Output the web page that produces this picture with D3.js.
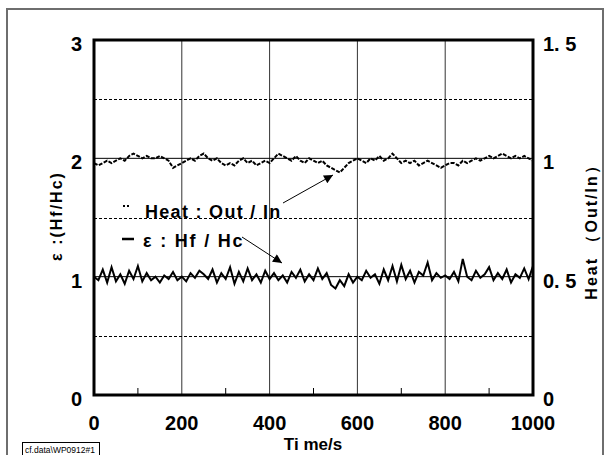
<!DOCTYPE html>
<html>
<head>
<meta charset="utf-8">
<script src="https://cdn.jsdelivr.net/npm/d3@7"></script>
<style>
  body { margin: 0; background: #fff; }
  text { font-family: "Liberation Sans", Arial, sans-serif; font-weight: bold; }
</style>
</head>
<body>
<script>
// time axis, every 10 s
const times = d3.range(0, 1001, 10);

// Heat : Out/In (right axis)
const heatValues = [
  0.98, 0.97, 0.98, 0.99, 0.98, 0.99, 1.00, 0.99, 1.01, 1.02,
  1.01, 1.00, 1.01, 1.00, 1.00, 1.01, 1.00, 0.99, 0.96, 0.97,
  0.98, 0.99, 1.00, 0.99, 1.01, 1.02, 1.00, 0.99, 1.00, 0.98,
  0.97, 0.98, 0.97, 0.99, 1.00, 0.98, 0.99, 0.97, 0.98, 0.99,
  0.98, 1.00, 1.02, 1.01, 1.00, 0.99, 1.01, 0.99, 0.98, 1.00,
  0.99, 0.98, 0.99, 0.97, 0.96, 0.95, 0.94, 0.96, 0.98, 0.99,
  1.00, 0.99, 0.98, 1.00, 0.99, 1.01, 0.99, 1.00, 1.02, 1.00,
  0.98, 0.99, 0.98, 0.99, 0.97, 0.98, 0.99, 0.98, 0.97, 0.96,
  0.97, 0.98, 0.98, 0.97, 0.99, 0.98, 0.99, 1.00, 0.99, 1.00,
  1.01, 1.00, 1.01, 1.02, 1.01, 1.00, 1.01, 1.00, 1.01, 1.00,
  0.99
];

// ε : Hf/Hc (left axis)
const epsValues = [
  1.00, 0.97, 1.06, 0.95, 1.08, 0.96, 1.02, 0.94, 1.05, 0.98,
  1.09, 0.96, 1.03, 0.97, 1.00, 0.95, 1.01, 0.98, 1.04, 0.97,
  1.00, 0.96, 1.03, 0.99, 1.05, 1.02, 0.98, 1.06, 0.95, 1.03,
  0.98, 1.08, 0.94, 1.04, 0.96, 1.07, 0.97, 1.02, 0.95, 1.05,
  0.98, 1.03, 0.97, 1.01, 0.95, 1.04, 0.99, 1.06, 0.96, 1.02,
  0.97, 1.07, 0.98, 1.03, 0.93, 0.90, 0.97, 0.92, 1.02, 0.95,
  1.00, 0.97, 1.05, 0.99, 1.02, 0.94, 1.06, 0.97, 1.09, 0.96,
  1.10, 0.98, 1.05, 0.95, 1.04, 1.01, 1.12, 0.97, 1.03, 0.99,
  1.01, 0.98, 1.04, 0.96, 1.15, 1.00, 0.97, 1.05, 0.99, 1.02,
  1.08, 0.97, 1.03, 0.98, 1.06, 0.95, 1.02, 0.99, 1.07, 0.98,
  1.09
];

const xTicks = [0, 200, 400, 600, 800, 1000];
const xMinor = [100, 300, 500, 700, 900];
const yLeftTicks = [0, 1, 2, 3];
const yRightTicks = [0, 0.5, 1, 1.5];
const yRightLabels = ["0", "0. 5", "1", "1. 5"];
const yDashed = [0.5, 1.5, 2.5];

const width = 604, height = 455;
const margin = { top: 40, right: 71, bottom: 60, left: 94 };

const svg = d3.select("body").append("svg")
  .attr("width", width)
  .attr("height", height);

// outer frame
svg.append("rect")
  .attr("x", 7).attr("y", 9)
  .attr("width", 596).attr("height", 450)
  .attr("fill", "none")
  .attr("stroke", "#6e6e6e")
  .attr("stroke-width", 2);

const x = d3.scaleLinear().domain([0, 1000]).range([margin.left, width - margin.right]);
const yL = d3.scaleLinear().domain([0, 3]).range([height - margin.bottom, margin.top]);
const yR = d3.scaleLinear().domain([0, 1.5]).range([height - margin.bottom, margin.top]);

// grid
svg.append("g").selectAll("line")
  .data(xTicks.slice(1, -1))
  .join("line")
  .attr("x1", d => x(d)).attr("x2", d => x(d))
  .attr("y1", yL(3)).attr("y2", yL(0))
  .attr("stroke", "#333").attr("stroke-width", 1);

svg.append("g").selectAll("line")
  .data([1, 2])
  .join("line")
  .attr("x1", x(0)).attr("x2", x(1000))
  .attr("y1", d => yL(d)).attr("y2", d => yL(d))
  .attr("stroke", "#000").attr("stroke-width", 1);

svg.append("g").selectAll("line")
  .data(yDashed)
  .join("line")
  .attr("x1", x(0)).attr("x2", x(1000))
  .attr("y1", d => Math.round(yL(d)) + 0.5).attr("y2", d => Math.round(yL(d)) + 0.5)
  .attr("stroke", "#000").attr("stroke-width", 1)
  .attr("stroke-dasharray", "3,2");

// minor ticks on bottom axis
svg.append("g").selectAll("line")
  .data(xMinor)
  .join("line")
  .attr("x1", d => x(d)).attr("x2", d => x(d))
  .attr("y1", yL(0)).attr("y2", yL(0) - 7)
  .attr("stroke", "#000").attr("stroke-width", 1);

// series
const lineHeat = d3.line()
  .x((d, i) => x(times[i]))
  .y(d => yR(d));

const lineEps = d3.line()
  .x((d, i) => x(times[i]))
  .y(d => yL(d));

svg.append("path")
  .datum(heatValues)
  .attr("fill", "none")
  .attr("stroke", "#000")
  .attr("stroke-width", 2)
  .attr("stroke-dasharray", "4,1.5")
  .attr("d", lineHeat);

svg.append("path")
  .datum(epsValues)
  .attr("fill", "none")
  .attr("stroke", "#000")
  .attr("stroke-width", 2)
  .attr("d", lineEps);

// plot frame
svg.append("rect")
  .attr("x", x(0)).attr("y", yL(3))
  .attr("width", x(1000) - x(0)).attr("height", yL(0) - yL(3))
  .attr("fill", "none")
  .attr("stroke", "#000")
  .attr("stroke-width", 3);

// tick labels
svg.append("g").selectAll("text")
  .data(xTicks)
  .join("text")
  .attr("x", d => x(d)).attr("y", 430)
  .attr("text-anchor", "middle")
  .attr("font-size", 20)
  .text(d => d);

svg.append("g").selectAll("text")
  .data(yLeftTicks)
  .join("text")
  .attr("x", 82).attr("y", d => yL(d) + 11)
  .attr("text-anchor", "end")
  .attr("font-size", 20)
  .text(d => d);

svg.append("g").selectAll("text")
  .data(yRightTicks)
  .join("text")
  .attr("x", 543).attr("y", (d, i) => yR(d) + 11)
  .attr("font-size", 20)
  .text((d, i) => yRightLabels[i]);

// axis titles
svg.append("text")
  .attr("x", 313).attr("y", 450)
  .attr("text-anchor", "middle")
  .attr("font-size", 17)
  .text("Ti me/s");

svg.append("text")
  .attr("transform", "translate(62,216) rotate(-90)")
  .attr("text-anchor", "middle")
  .attr("font-size", 16)
  .attr("letter-spacing", 2)
  .text("ε :(Hf/Hc)");

svg.append("text")
  .attr("transform", "translate(597,228) rotate(-90)")
  .attr("text-anchor", "middle")
  .attr("font-size", 16)
  .attr("letter-spacing", 2)
  .text("Heat （Out/In）");

// legend
svg.append("line")
  .attr("x1", 123).attr("x2", 131)
  .attr("y1", 206).attr("y2", 206)
  .attr("stroke", "#000").attr("stroke-width", 2)
  .attr("stroke-dasharray", "2,2");
svg.append("text")
  .attr("x", 145).attr("y", 218)
  .attr("font-size", 18)
  .attr("letter-spacing", 1.3)
  .text("Heat : Out / In");

svg.append("line")
  .attr("x1", 122).attr("x2", 134)
  .attr("y1", 239).attr("y2", 239)
  .attr("stroke", "#000").attr("stroke-width", 2.5);
svg.append("text")
  .attr("x", 143).attr("y", 247)
  .attr("font-size", 18)
  .attr("letter-spacing", 1.8)
  .text("ε : Hf / Hc");

// arrows
const defs = svg.append("defs");
defs.append("marker")
  .attr("id", "arrow")
  .attr("viewBox", "0 0 10 10")
  .attr("refX", 10).attr("refY", 5)
  .attr("markerWidth", 12).attr("markerHeight", 9)
  .attr("markerUnits", "userSpaceOnUse")
  .attr("orient", "auto")
  .append("path")
  .attr("d", "M0,0 L10,5 L0,10 Z")
  .attr("fill", "#000");

svg.append("line")
  .attr("x1", 283).attr("y1", 203)
  .attr("x2", 333).attr("y2", 175)
  .attr("stroke", "#000").attr("stroke-width", 1)
  .attr("marker-end", "url(#arrow)");

svg.append("line")
  .attr("x1", 242).attr("y1", 237)
  .attr("x2", 282).attr("y2", 263)
  .attr("stroke", "#000").attr("stroke-width", 1)
  .attr("marker-end", "url(#arrow)");

// source tag
svg.append("rect")
  .attr("x", 22.5).attr("y", 442.5)
  .attr("width", 77).attr("height", 14)
  .attr("fill", "#fff")
  .attr("stroke", "#000").attr("stroke-width", 1);
svg.append("text")
  .attr("x", 25).attr("y", 453)
  .attr("font-size", 8.5)
  .style("font-weight", "normal")
  .text("cf.data\\WP0912#1");
</script>
</body>
</html>
